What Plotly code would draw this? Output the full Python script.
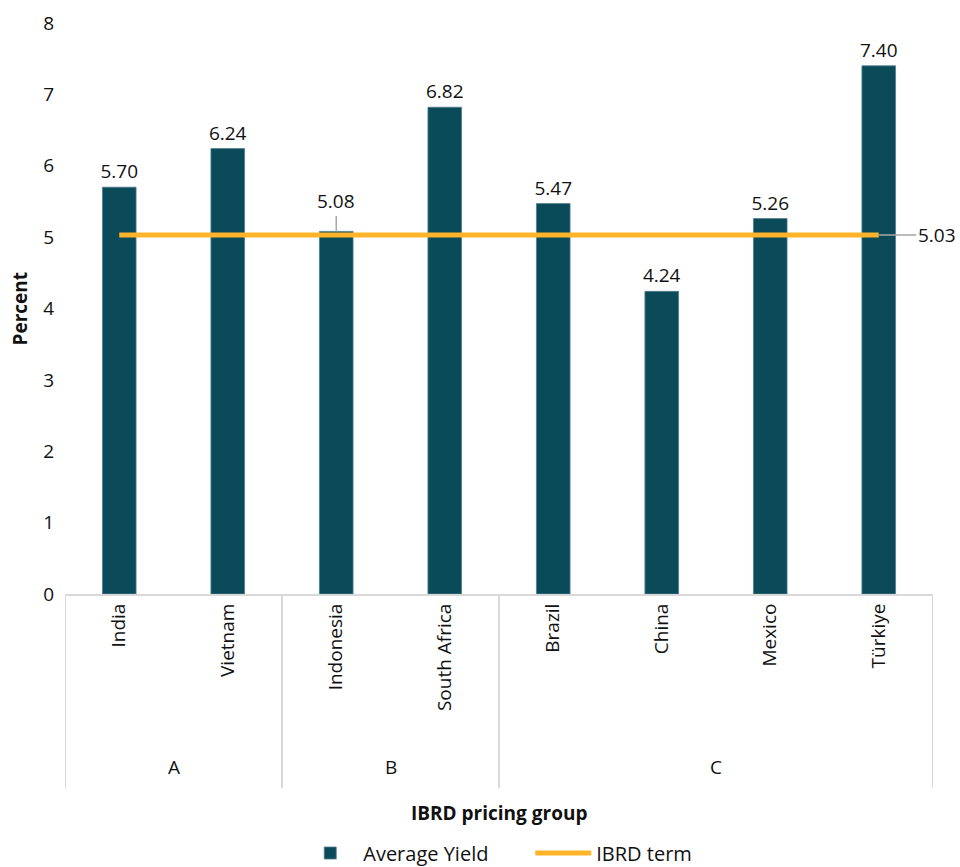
import plotly.graph_objects as go

# Data
countries = ["India", "Vietnam", "Indonesia", "South Africa", "Brazil", "China", "Mexico", "Türkiye"]
pricing_groups = ["A", "A", "B", "B", "C", "C", "C", "C"]
average_yield = [5.70, 6.24, 5.08, 6.82, 5.47, 4.24, 5.26, 7.40]
ibrd_term = [5.03, 5.03, 5.03, 5.03, 5.03, 5.03, 5.03, 5.03]
y_ticks = [0, 1, 2, 3, 4, 5, 6, 7, 8]

BAR_COLOR = "#0B4A59"
LINE_COLOR = "#FDB42B"
FONT = "Open Sans"
FS = 19
TEXT = "#111111"
GRID = "#D9D9D9"

# Indonesia's label sits above the term line with a leader, so it is drawn separately
bar_text = [f"{v:.2f}" if c != "Indonesia" else "" for c, v in zip(countries, average_yield)]

fig = go.Figure()
fig.add_trace(go.Bar(
    x=countries, y=average_yield, name="Average Yield",
    marker=dict(color=BAR_COLOR, line=dict(color="#4F7F8B", width=0.8)),
    width=0.31,
    text=bar_text, textposition="outside", cliponaxis=False, constraintext="none",
    textfont=dict(family=FONT, size=FS, color=TEXT),
))
fig.add_trace(go.Scatter(
    x=countries, y=ibrd_term, name="IBRD term", mode="lines",
    line=dict(color=LINE_COLOR, width=5),
))

# Labels with leader lines
idx_indo = countries.index("Indonesia")
fig.add_annotation(
    x=countries[idx_indo], y=average_yield[idx_indo], text=f"{average_yield[idx_indo]:.2f}",
    showarrow=True, arrowhead=0, arrowwidth=1.5, arrowcolor="#A6A6A6",
    ax=0, ay=-30, font=dict(family=FONT, size=FS, color=TEXT),
)
fig.add_annotation(
    x=countries[-1], y=ibrd_term[-1], text=f"{ibrd_term[-1]:.2f}",
    showarrow=True, arrowhead=0, arrowwidth=1.5, arrowcolor="#A6A6A6",
    ax=58, ay=0, font=dict(family=FONT, size=FS, color=TEXT),
)

# Pricing-group labels and separators below the axis
groups = []
for i, g in enumerate(pricing_groups):
    if not groups or groups[-1][0] != g:
        groups.append([g, i, i])
    else:
        groups[-1][2] = i
for g, start, end in groups:
    fig.add_annotation(
        x=(start + end) / 2, y=-0.303, xref="x", yref="paper", yanchor="middle", text=g,
        showarrow=False, font=dict(family=FONT, size=FS, color=TEXT),
    )
bounds = [groups[0][1] - 0.5] + [end + 0.5 for _, _, end in groups]
for b in bounds:
    fig.add_shape(type="line", xref="x", yref="paper", x0=b, x1=b, y0=0, y1=-0.34,
                  line=dict(color=GRID, width=2))

fig.add_annotation(
    x=0.5, y=-0.3835, xref="paper", yref="paper", yanchor="middle",
    text="<b>IBRD pricing group</b>",
    showarrow=False, font=dict(family=FONT, size=FS, color=TEXT),
)
fig.add_annotation(
    x=0, y=0.5, xref="paper", yref="paper", xanchor="center", yanchor="middle",
    xshift=-46, text="<b>Percent</b>",
    textangle=-90, showarrow=False, font=dict(family=FONT, size=FS, color=TEXT),
)

fig.update_layout(
    width=960, height=867,
    margin=dict(l=65, r=27, t=23, b=273, autoexpand=False),
    plot_bgcolor="white", paper_bgcolor="white",
    font=dict(family=FONT, size=FS, color=TEXT),
    showlegend=True,
    legend=dict(orientation="h", x=0.536, xanchor="center",
                y=14 / 867, yref="container", yanchor="middle",
                font=dict(family=FONT, size=20, color=TEXT), itemwidth=56,
                entrywidth=162, traceorder="normal"),
    bargap=0.69,
)
fig.update_xaxes(
    type="category", categoryarray=countries, range=[-0.5, len(countries) - 0.5],
    tickangle=-90, showline=True, linecolor=GRID, linewidth=2, automargin=False,
    showgrid=False, ticks="", tickfont=dict(family=FONT, size=FS, color=TEXT),
)
fig.update_yaxes(
    range=[0, 8], tickvals=y_ticks, showgrid=False, zeroline=False, showline=False,
    automargin=False,
    ticks="", ticklabelstandoff=10, tickfont=dict(family=FONT, size=FS, color=TEXT),
)

fig.write_html("out.html")
